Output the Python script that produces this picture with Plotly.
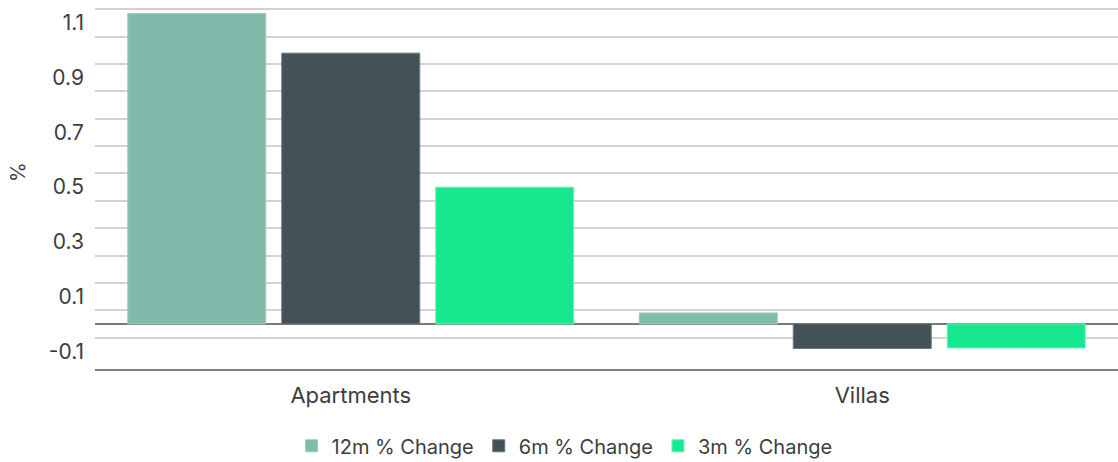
import plotly.graph_objects as go

# Property types on the category axis
categories = ["Apartments", "Villas"]

# Price change by period (%)
series_names = ["12m % Change", "6m % Change", "3m % Change"]
change_12m = [1.135, 0.04]
change_6m = [0.99, -0.09]
change_3m = [0.50, -0.088]
series_values = [change_12m, change_6m, change_3m]

series_colors = ["#80BAAB", "#435257", "#17E88F"]
outline_colors = ["#9ccabd", "#6a7679", "#6cf0b8"]

# Labelled ticks and the gridlines that sit between them
tick_values = [-0.1, 0.1, 0.3, 0.5, 0.7, 0.9, 1.1]
tick_labels = ["-0.1", "0.1", "0.3", "0.5", "0.7", "0.9", "1.1"]
grid_values = [-0.05, 0.05, 0.15, 0.25, 0.35, 0.45, 0.55, 0.65, 0.75, 0.85, 0.95, 1.05, 1.15]

FONT = "Inter"
TEXT = "#3d3d3d"

fig = go.Figure()
for name, vals, col, oc in zip(series_names, series_values, series_colors, outline_colors):
    fig.add_trace(go.Bar(
        x=categories, y=vals, name=name,
        marker=dict(color=col, line=dict(color=oc, width=1)),
    ))

fig.update_layout(
    width=1118, height=462,
    margin=dict(l=95, r=0, t=8, b=93),
    paper_bgcolor="white", plot_bgcolor="white",
    barmode="group", bargap=0.097, bargroupgap=0.104,
    font=dict(family=FONT, color=TEXT),
    showlegend=True,
    legend=dict(
        orientation="h", xref="container", yref="container",
        x=0.505, xanchor="center", y=0.035, yanchor="middle",
        font=dict(family=FONT, size=20, color=TEXT),
        itemwidth=30, traceorder="normal",
    ),
    xaxis=dict(
        showgrid=False, showline=True, linecolor="#7d8080", linewidth=2,
        ticks="", tickfont=dict(family=FONT, size=22, color=TEXT),
        ticklabelstandoff=6, zeroline=False,
    ),
    yaxis=dict(
        range=[-0.165, 1.155], tickmode="array",
        tickvals=tick_values, ticktext=tick_labels,
        showgrid=False, ticks="",
        tickfont=dict(family=FONT, size=21, color=TEXT),
        ticklabelstandoff=10,
        zeroline=True, zerolinecolor="#7a7a7a", zerolinewidth=1.5,
        showline=False,
        minor=dict(tickmode="array", tickvals=grid_values, showgrid=True,
                   gridcolor="#d2d2d2", gridwidth=1.5, ticks=""),
    ),
    annotations=[dict(
        text="%", xref="paper", yref="paper",
        x=-77 / 1023, y=(369 - 172) / 361, xanchor="center", yanchor="middle",
        textangle=-90, showarrow=False,
        font=dict(family=FONT, size=20, color=TEXT),
    )],
)

fig.write_html("out.html")
